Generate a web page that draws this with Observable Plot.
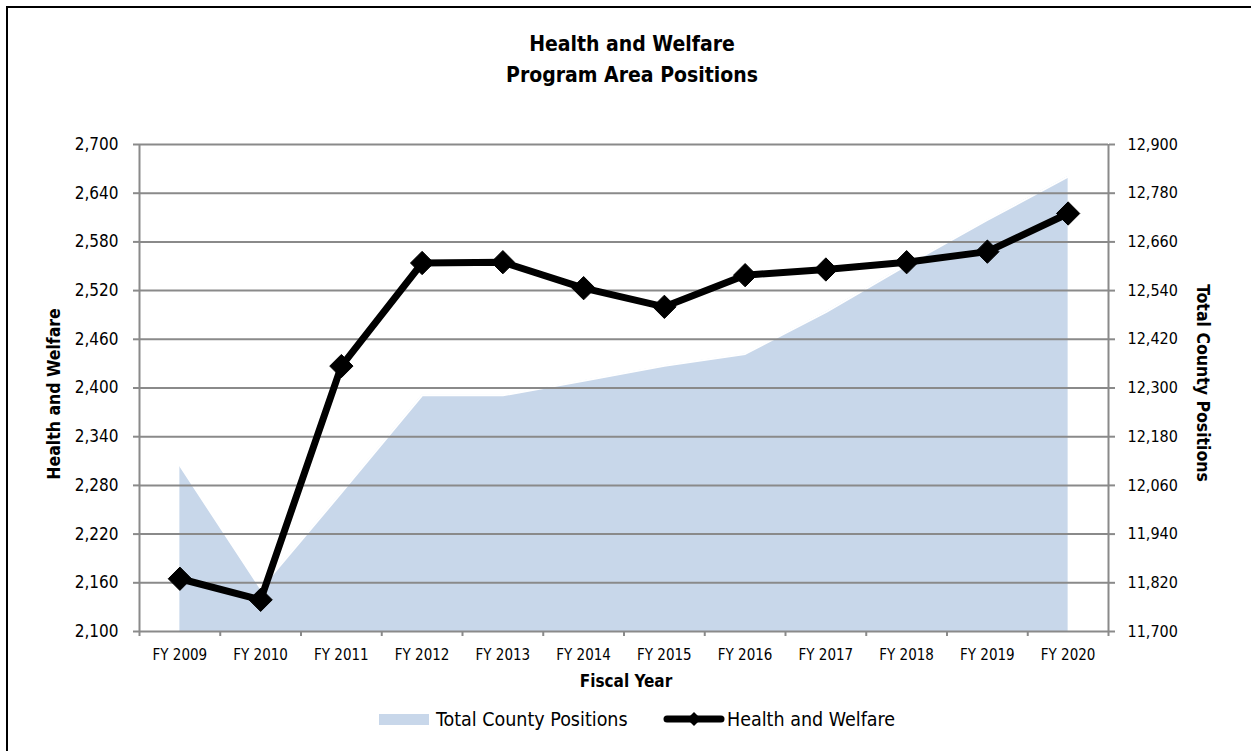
<!DOCTYPE html>
<html>
<head>
<meta charset="utf-8">
<script src="https://cdn.jsdelivr.net/npm/d3@7"></script>
<script src="https://cdn.jsdelivr.net/npm/@observablehq/plot@0.6"></script>
<style>
  html, body { margin: 0; padding: 0; background: #fff; }
  body { width: 1251px; height: 751px; overflow: hidden; position: relative;
         font-family: "Liberation Sans Narrow", "Arial Narrow", "DejaVu Sans Condensed", sans-serif; }
  #frame { position: absolute; left: 6px; top: 6px; width: 1300px; height: 800px; border: 2px solid #000; box-sizing: border-box; }
  #title { position: absolute; left: 0; width: 1264px; top: 29px; text-align: center;
           font-weight: bold; font-size: 21px; line-height: 31px; letter-spacing: 0px; color: #000; }
  #chart { position: absolute; left: 0; top: 110px; }
  #legend { position: absolute; top: 706px; left: 0; width: 1251px; height: 26px; font-size: 19.5px; color: #000; }
  .lg { position: absolute; top: 0; display: flex; align-items: center; height: 26px; }
</style>
</head>
<body>
<div id="frame"></div>
<div id="title">Health and Welfare<br>Program Area Positions</div>
<div id="chart"></div>
<div id="legend"></div>
<script>
const years = ["FY 2009", "FY 2010", "FY 2011", "FY 2012", "FY 2013", "FY 2014",
               "FY 2015", "FY 2016", "FY 2017", "FY 2018", "FY 2019", "FY 2020"];
const healthWelfare = [2165, 2139, 2427, 2554, 2555, 2523, 2500, 2539, 2546, 2555, 2568, 2615];
const totalCounty = [12109, 11806, 12042, 12282, 12282, 12318, 12355, 12384, 12487, 12603, 12714, 12821];
const leftTicks = [2100, 2160, 2220, 2280, 2340, 2400, 2460, 2520, 2580, 2640, 2700];
const rightTicks = [11700, 11820, 11940, 12060, 12180, 12300, 12420, 12540, 12660, 12780, 12900];

const seriesNames = ["Total County Positions", "Health and Welfare"];
const areaColor = "#c8d7ea";
const gridColor = "#8a8a8a";

// secondary axis mapping (right → left scale)
const l0 = leftTicks[0], l1 = leftTicks[leftTicks.length - 1];
const r0 = rightTicks[0], r1 = rightTicks[rightTicks.length - 1];
const toLeft = v => l0 + (v - r0) * (l1 - l0) / (r1 - r0);
const toRight = v => r0 + (v - l0) * (r1 - r0) / (l1 - l0);

const data = years.map((y, i) => ({i, year: y, hw: healthWelfare[i], total: totalCounty[i]}));
const bounds = years.map((_, i) => i - 0.5).concat([years.length - 0.5]);
const fmt = d3.format(",");
const font = '"Liberation Sans Narrow", "Arial Narrow", "DejaVu Sans Condensed", sans-serif';

const chart = Plot.plot({
  width: 1251,
  height: 600,
  marginLeft: 139,
  marginRight: 143,
  marginTop: 34,
  marginBottom: 79,
  x: {domain: [-0.5, years.length - 0.5]},
  y: {domain: [l0, l1]},
  style: {fontFamily: font, fontSize: "16px", color: "#000", background: "transparent", overflow: "visible"},
  marks: [
    Plot.areaY(data, {x: "i", y1: l0, y2: d => toLeft(d.total), fill: areaColor}),
    Plot.lineY(data, {x: "i", y: d => toLeft(d.total), stroke: "#fff", strokeWidth: 2}),
    Plot.ruleY(leftTicks, {stroke: gridColor, strokeWidth: 2}),
    Plot.ruleX([bounds[0], bounds[bounds.length - 1]], {stroke: gridColor, strokeWidth: 2}),
    // left axis
    Plot.axisY(leftTicks, {anchor: "left", tickSize: 6, tickPadding: 15, stroke: gridColor, strokeWidth: 2,
      tickFormat: fmt, label: null, fontSize: 17, fill: "#000"}),
    // right axis
    Plot.axisY(rightTicks.map(toLeft), {anchor: "right", tickSize: 6, tickPadding: 13, stroke: gridColor, strokeWidth: 2,
      tickFormat: d => fmt(Math.round(toRight(d))), label: null, fontSize: 16, fill: "#000"}),
    // x axis: boundary ticks and centered labels
    Plot.axisX(bounds, {anchor: "bottom", tickSize: 5, stroke: gridColor, strokeWidth: 2, tickFormat: () => "", label: null}),
    Plot.axisX(years.map((_, i) => i), {anchor: "bottom", tickSize: 0, tickPadding: 18, tickFormat: i => years[i],
      label: null, fontSize: 15, fill: "#000"}),
    // axis titles
    Plot.text(["Health and Welfare"], {frameAnchor: "left", textAnchor: "middle", rotate: -90, dx: -85, dy: 6,
      fontWeight: "bold", fontSize: 17.5, fill: "#000"}),
    Plot.text(["Total County Positions"], {frameAnchor: "right", textAnchor: "middle", rotate: 90, dx: 94, dy: -5,
      fontWeight: "bold", fontSize: 17.5, fill: "#000"}),
    Plot.text(["Fiscal Year"], {frameAnchor: "bottom", textAnchor: "middle", dy: 55, dx: 2,
      fontWeight: "bold", fontSize: 17, fill: "#000"}),
    // health and welfare line
    Plot.lineY(data, {x: "i", y: "hw", stroke: "#000", strokeWidth: 7, strokeLinejoin: "round"}),
    Plot.dot(data, {x: "i", y: "hw", symbol: "diamond2", r: 10.5, fill: "#000", stroke: "#000", strokeWidth: 1})
  ]
});
document.getElementById("chart").appendChild(chart);

// legend
const legend = document.getElementById("legend");
const l1El = document.createElement("div");
l1El.className = "lg";
l1El.style.left = "379px";
l1El.innerHTML = `<span style="display:inline-block;width:50px;height:11px;background:${areaColor};margin-right:7px"></span><span>${seriesNames[0]}</span>`;
legend.appendChild(l1El);
const l2El = document.createElement("div");
l2El.className = "lg";
l2El.style.left = "663px";
l2El.innerHTML = `<svg width="62" height="20" style="margin-right:2px"><line x1="4" y1="10" x2="58" y2="10" stroke="#000" stroke-width="7" stroke-linecap="round"/><path d="M31,3 L38,10 L31,17 L24,10 Z" fill="#000"/></svg><span>${seriesNames[1]}</span>`;
legend.appendChild(l2El);
</script>
</body>
</html>
